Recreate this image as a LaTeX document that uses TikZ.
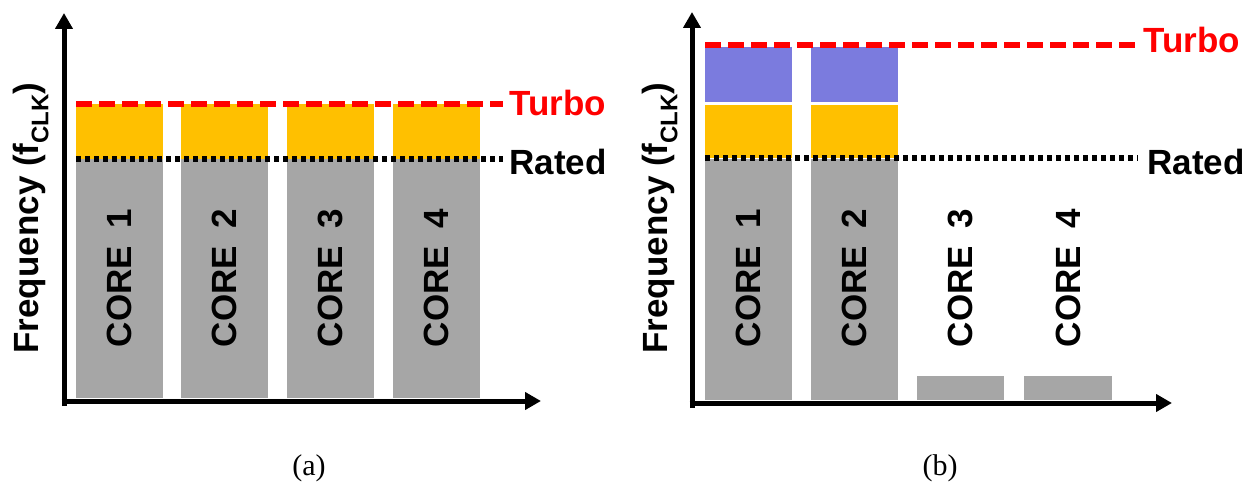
\documentclass[tikz,border=0pt]{standalone}
\usepackage{fontspec}
\setmainfont{Liberation Sans}
\newfontfamily\capfont{Liberation Serif}
\usetikzlibrary{arrows.meta}
\definecolor{bargray}{HTML}{A6A6A6}
\definecolor{barorange}{HTML}{FFC000}
\definecolor{barpurple}{HTML}{7B7BDE}
\definecolor{turbored}{HTML}{FF0000}
\tikzset{
  axis/.style={line width=2.5pt, -{Triangle[length=8pt,width=8.5pt]}},
  turboline/.style={turbored, line width=2.6pt, dash pattern=on 8pt off 3.5pt},
  ratedline/.style={black, line width=2.6pt, dash pattern=on 2.5pt off 2pt},
  bigtext/.style={font=\fontsize{17.5pt}{20pt}\selectfont\bfseries, inner sep=0pt},
  corelabel/.style={bigtext, rotate=90},
  caption/.style={font=\capfont\fontsize{15pt}{17pt}\selectfont, inner sep=0pt},
}
\newcommand{\fclk}{Frequency (f\raisebox{-0.28em}{\fontsize{12pt}{14pt}\selectfont CLK})}
\begin{document}
\begin{tikzpicture}[x=0.5pt,y=-0.5pt]
\useasboundingbox (0,0) rectangle (1252,497);
% ---------------- panel (a)
\foreach \l/\r/\n in {76/163/1,181/268/2,287/374/3,393/480/4}{
  \fill[bargray] (\l,159) rectangle (\r,398);
  \fill[barorange] (\l,104) rectangle (\r,159);
  \node[corelabel] (a\n) at ({(\l+\r)/2},278) {CORE\hspace{0.5em}\n};
}
\coordinate (aO) at (64,401);
\coordinate (aY) at (64,13);
\coordinate (aX) at (541,401);
\draw[axis] ([yshift=-2.5pt]aO) -- (aY);
\draw[axis] ([xshift=-1.25pt]aO) -- (aX);
\node[bigtext, rotate=90] (aylab) at (31,218) {\fclk};
\node[bigtext, text=turbored, anchor=base west] (aturbo) at (509,116) {Turbo};
\node[bigtext, anchor=base west] (arated) at (509,175) {Rated};
\coordinate (at0) at (76,104);
\coordinate (ar0) at (76,159);
\draw[turboline] (at0) -- (503,104);
\draw[ratedline] (ar0) -- (503,159);
\node[caption] (capa) at (309,468) {(a)};
% ---------------- panel (b)
\foreach \l/\r/\n in {705/792/1,811/898/2}{
  \fill[bargray] (\l,159) rectangle (\r,400);
  \fill[barorange] (\l,105) rectangle (\r,158);
  \fill[barpurple] (\l,47) rectangle (\r,102);
  \node[corelabel] (b\n) at ({(\l+\r)/2},278) {CORE\hspace{0.5em}\n};
}
\foreach \l/\r/\n in {917/1004/3,1024/1112/4}{
  \fill[bargray] (\l,376) rectangle (\r,400);
  \node[corelabel] (b\n) at ({(\l+\r)/2},278) {CORE\hspace{0.5em}\n};
}
\coordinate (bO) at (692,403);
\coordinate (bY) at (692,12);
\coordinate (bX) at (1172,403);
\draw[axis] ([yshift=-2.5pt]bO) -- (bY);
\draw[axis] ([xshift=-1.25pt]bO) -- (bX);
\node[bigtext, rotate=90] (bylab) at (660,218) {\fclk};
\node[bigtext, text=turbored, anchor=base west] (bturbo) at (1143,53) {Turbo};
\node[bigtext, anchor=base west] (brated) at (1147,175) {Rated};
\draw[turboline] (705,45) -- (1138,45);
\draw[ratedline] (705,158) -- (1138,158);
\node[caption] (capb) at (940,468) {(b)};
\end{tikzpicture}
\end{document}
